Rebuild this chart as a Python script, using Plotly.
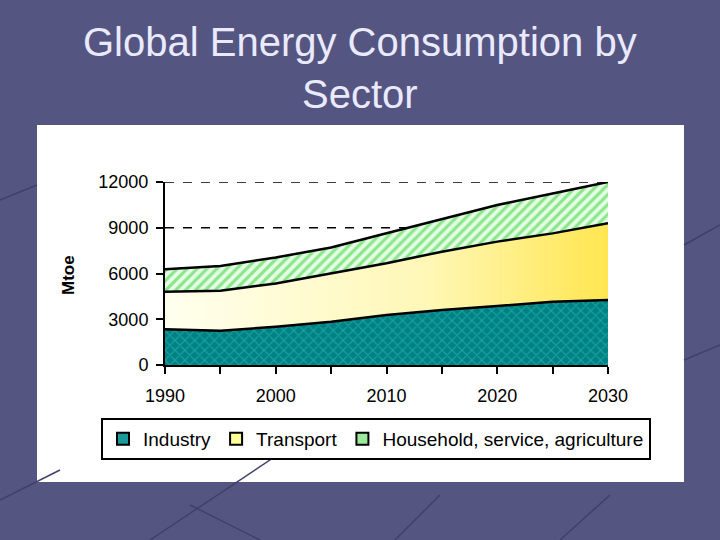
import plotly.graph_objects as go

years = [1990, 1995, 2000, 2005, 2010, 2015, 2020, 2025, 2030]
industry = [2340, 2250, 2510, 2840, 3280, 3600, 3870, 4150, 4260]
transport = [2470, 2620, 2840, 3170, 3390, 3830, 4220, 4480, 5030]
household = [1470, 1620, 1700, 1700, 1970, 2120, 2400, 2620, 2710]

series_names = ["Industry", "Transport", "Household, service, agriculture"]
x_tickvals = [1990, 1995, 2000, 2005, 2010, 2015, 2020, 2025, 2030]
x_ticktext = ["1990", "", "2000", "", "2010", "", "2020", "", "2030"]
y_tickvals = [0, 3000, 6000, 9000, 12000]
y_ticktext = ["0", "3000", "6000", "9000", "12000"]
grid_vals = [9000, 12000]

fig = go.Figure()
fig.add_trace(go.Scatter(
    x=years, y=industry, name=series_names[0], stackgroup="a", mode="lines",
    line=dict(color="black", width=2.5), showlegend=False,
    fillcolor="#008080",
    fillpattern=dict(shape="x", bgcolor="#008080", fgcolor="#33CCCC", size=7, solidity=0.3),
))
fig.add_trace(go.Scatter(
    x=years, y=transport, name=series_names[1], stackgroup="a", mode="lines",
    line=dict(color="black", width=2.5), showlegend=False,
    fillgradient=dict(type="horizontal",
                      colorscale=[[0, "#FFFFEE"], [0.6, "#FFF7B5"], [1, "#FFE650"]]),
))
fig.add_trace(go.Scatter(
    x=years, y=household, name=series_names[2], stackgroup="a", mode="lines",
    line=dict(color="black", width=2.5), showlegend=False,
    fillcolor="#CCFFCC",
    fillpattern=dict(shape="/", bgcolor="#E4FFE4", fgcolor="#33CC33", size=7, solidity=0.45),
))
# legend swatches (square keys like the original)
for nm, col in zip(series_names, ["#1A9A9A", "#FFFF99", "#9BEA9B"]):
    fig.add_trace(go.Scatter(
        x=[None], y=[None], name=nm, mode="markers",
        marker=dict(symbol="square", size=12, color=col, line=dict(color="black", width=1.5)),
    ))

W, H = 720, 540
L, R, T, B = 165, 608, 182, 365
pw, ph = R - L, B - T
def px(x):
    return (x - L) / pw
def py(y):
    return (B - y) / ph

shapes = [
    dict(type="rect", xref="paper", yref="paper", x0=px(37), x1=px(684), y0=py(482), y1=py(125),
         fillcolor="white", line=dict(width=0), layer="below"),
]
for g in grid_vals:
    shapes.append(dict(type="line", xref="paper", yref="y", x0=0, x1=1, y0=g, y1=g,
                       line=dict(color="black", width=1.5, dash="dash"), layer="below"))
# decorative slide lines
deco = [((0, 500), (60, 470)), ((150, 540), (300, 440)), ((190, 505), (300, 560)),
        ((684, 245), (720, 225)), ((684, 360), (720, 345)), ((395, 540), (440, 495)),
        ((560, 540), (610, 495)), ((0, 200), (37, 185))]
for (a, b) in deco:
    shapes.append(dict(type="line", xref="paper", yref="paper", x0=px(a[0]), y0=py(a[1]),
                       x1=px(b[0]), y1=py(b[1]), line=dict(color="#40406A", width=1.5), layer="below"))

fig.update_layout(
    width=W, height=H,
    margin=dict(l=L, r=W - R, t=T, b=H - B, autoexpand=False),
    paper_bgcolor="#555582",
    plot_bgcolor="white",
    font=dict(family="Liberation Sans, Arial", color="black", size=14),
    shapes=shapes,
    showlegend=True,
    legend=dict(orientation="h", x=px(101), y=py(418), xanchor="left", yanchor="top",
                bordercolor="black", borderwidth=2, bgcolor="white",
                font=dict(size=19, color="black"), traceorder="normal",
                itemwidth=30, tracegroupgap=0, itemsizing="constant"),
    annotations=[
        dict(text="Global Energy Consumption by<br>Sector", xref="paper", yref="paper",
             x=px(360), y=py(18), xanchor="center", yanchor="top", showarrow=False,
             font=dict(size=40, color="#EAEAFF", family="Liberation Sans, Arial")),
        dict(text="<b>Mtoe</b>", xref="paper", yref="paper", x=px(68), y=py(275),
             xanchor="center", yanchor="middle",
             textangle=-90, showarrow=False, font=dict(size=17, color="black")),
    ],
    xaxis=dict(range=[1990, 2030], tickvals=x_tickvals, ticktext=x_ticktext,
               showline=True, linecolor="black", linewidth=2, ticks="outside",
               ticklen=7, tickcolor="black", tickwidth=2, showgrid=False, zeroline=False,
               tickfont=dict(size=18), ticklabelstandoff=6, fixedrange=True),
    yaxis=dict(range=[0, 12000], tickvals=y_tickvals, ticktext=y_ticktext, showline=True,
               linecolor="black", linewidth=2, ticks="outside", ticklen=7, tickcolor="black",
               tickwidth=2, showgrid=False, zeroline=False, tickfont=dict(size=18),
               ticklabelstandoff=4, fixedrange=True),
)

fig.write_html("out.html", config={"displayModeBar": False},
               post_script="document.body.style.margin='0';")
